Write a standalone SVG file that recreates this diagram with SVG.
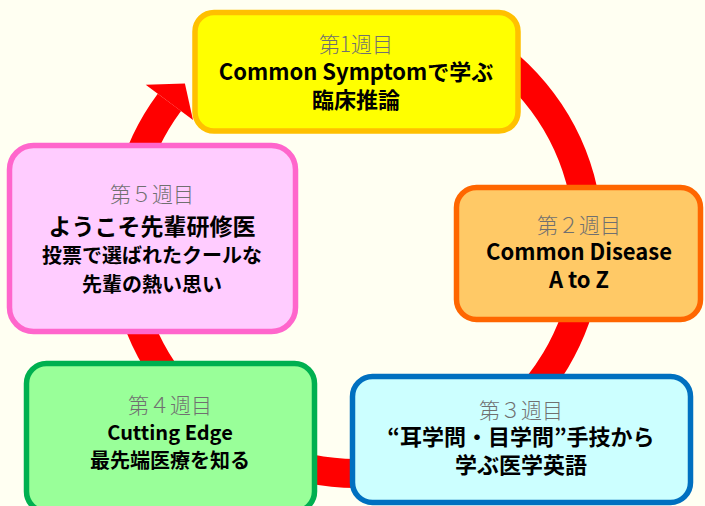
<svg xmlns="http://www.w3.org/2000/svg" width="705" height="506" viewBox="0 0 705 506">
<style>
.box{stroke-width:5.5}
.wk{font-family:"Noto Sans CJK JP","Noto Sans",sans-serif;font-weight:300;font-size:21px;fill:#707070;text-anchor:middle}
.t{font-family:"Noto Sans CJK JP","Noto Sans",sans-serif;font-weight:700;fill:#000;text-anchor:middle}
</style>
<rect width="705" height="506" fill="#FFFFF2"/>
<g id="connectors">
<path d="M465.2,35.7 A232.5,232.5 0 1 1 169.4,102.4" fill="none" stroke="#FF0000" stroke-width="29"/>
<polygon points="145.7,84.8 184.9,83.6 193,120" fill="#FF0000"/>
</g>
<g id="week1">
<rect class="box" x="195" y="12.5" width="323" height="118.5" rx="19" fill="#FFFF00" stroke="#FFC000"/>
<text class="wk" x="356" y="52">第1週目</text>
<text class="t" x="356" y="80" font-size="22">Common Symptomで学ぶ</text>
<text class="t" x="356" y="108" font-size="22">臨床推論</text>
</g>
<g id="week2">
<rect class="box" x="456.5" y="187.5" width="244" height="132" rx="20" fill="#FFC966" stroke="#FF6600"/>
<text class="wk" x="579" y="233">第２週目</text>
<text class="t" x="579" y="260" font-size="22">Common Disease</text>
<text class="t" x="579" y="288" font-size="22">A to Z</text>
</g>
<g id="week3">
<rect class="box" x="352.5" y="376.5" width="338" height="126" rx="20" fill="#CCFFFF" stroke="#0070C0"/>
<text class="wk" x="521" y="418">第３週目</text>
<text class="t" x="521" y="445" font-size="22">“耳学問・目学問”手技から</text>
<text class="t" x="521" y="473" font-size="22">学ぶ医学英語</text>
</g>
<g id="week4">
<rect class="box" x="26.5" y="363.5" width="288" height="148" rx="20" fill="#99FF99" stroke="#00B050"/>
<text class="wk" x="170" y="413">第４週目</text>
<text class="t" x="170" y="440" font-size="20">Cutting Edge</text>
<text class="t" x="170" y="468" font-size="20">最先端医療を知る</text>
</g>
<g id="week5">
<rect class="box" x="9.5" y="145.5" width="286" height="186" rx="24" fill="#FFCCFF" stroke="#FF66CC"/>
<text class="wk" x="152" y="202">第５週目</text>
<text class="t" x="152" y="235" font-size="23">ようこそ先輩研修医</text>
<text class="t" x="152" y="263" font-size="20">投票で選ばれたクールな</text>
<text class="t" x="152" y="292" font-size="20">先輩の熱い思い</text>
</g>
</svg>
